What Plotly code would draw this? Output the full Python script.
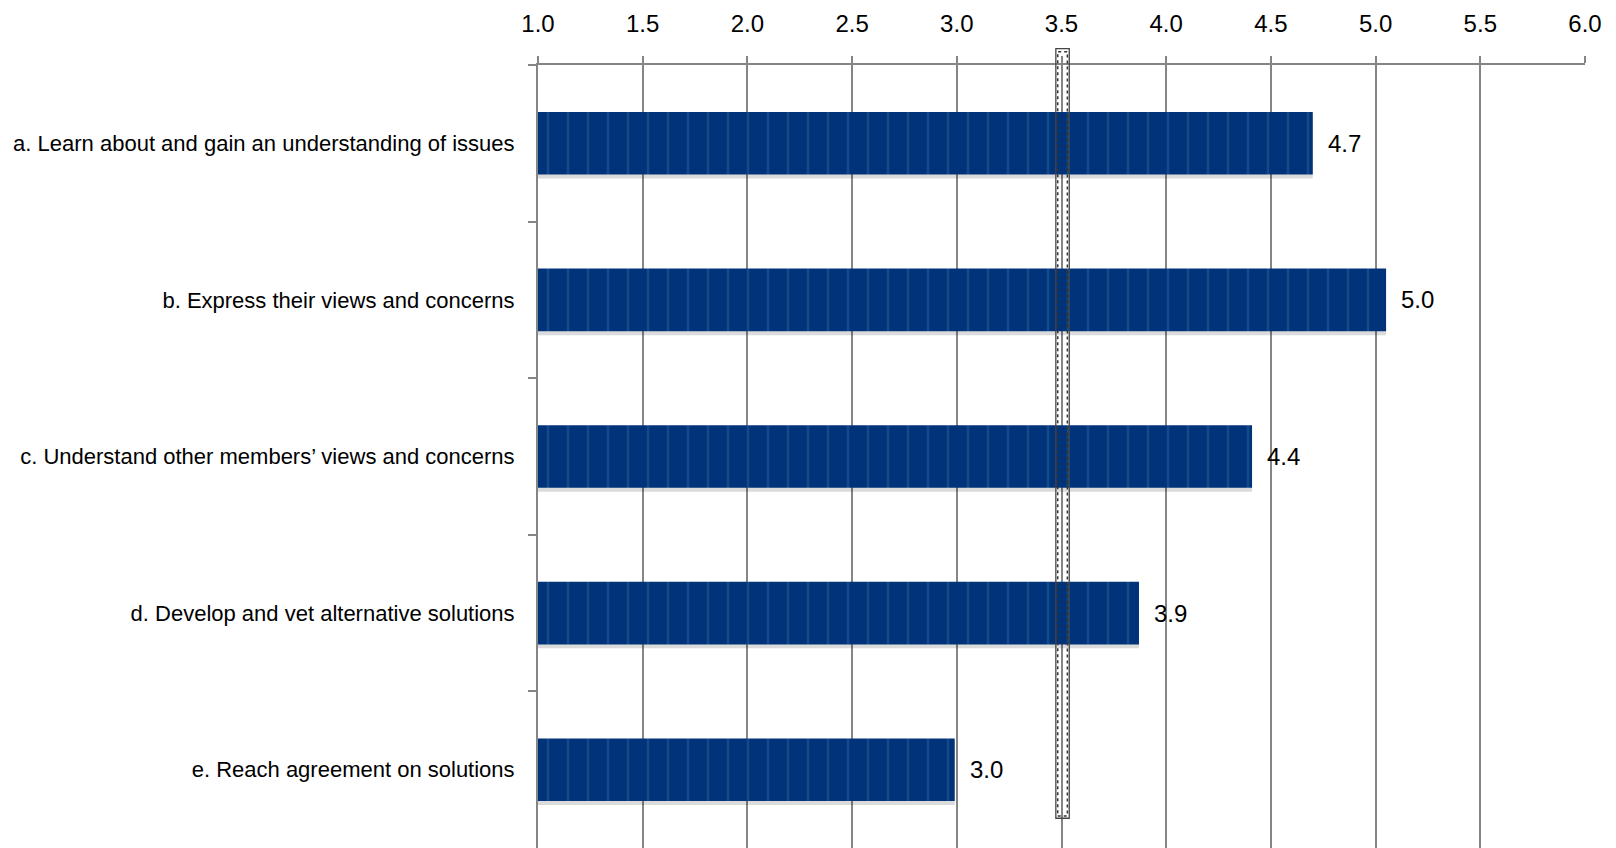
import plotly.graph_objects as go

# Survey items and mean ratings
categories = [
    "a. Learn about and gain an understanding of issues",
    "b. Express their views and concerns",
    "c. Understand other members\u2019 views and concerns",
    "d. Develop and vet alternative solutions",
    "e. Reach agreement on solutions",
]
ratings = [4.70, 5.05, 4.41, 3.87, 2.99]
tick_values = [1.0, 1.5, 2.0, 2.5, 3.0, 3.5, 4.0, 4.5, 5.0, 5.5, 6.0]
tick_labels = ["1.0", "1.5", "2.0", "2.5", "3.0", "3.5", "4.0", "4.5", "5.0", "5.5", "6.0"]
midpoint = 3.5

BAR_COLOR = "#01337a"
STRIPE_COLOR = "#134a88"
GRID = "#858585"
LABEL_FONT = "Liberation Sans Narrow, Arial Narrow, Liberation Sans, sans-serif"
NUM_FONT = "Liberation Sans, Arial, sans-serif"

fig = go.Figure()

# soft drop shadow under each bar
fig.add_trace(go.Bar(
    x=ratings, y=categories, orientation="h",
    width=0.4, offset=-0.175,
    marker=dict(color="rgba(0,0,0,0.14)", line=dict(width=0)),
    hoverinfo="skip", showlegend=False,
))

# striped navy bars
fig.add_trace(go.Bar(
    x=ratings, y=categories, orientation="h",
    width=0.4, offset=-0.2,
    marker=dict(
        color=BAR_COLOR,
        line=dict(width=0),
        pattern=dict(shape="|", fgcolor=STRIPE_COLOR, bgcolor=BAR_COLOR,
                     size=20, solidity=0.12, fillmode="replace"),
    ),
    showlegend=False,
))

# value labels to the right of each bar
for cat, val in zip(categories, ratings):
    fig.add_annotation(
        x=val, y=cat, xref="x", yref="y",
        text=f"{val:.1f}", showarrow=False,
        xanchor="left", yanchor="middle", xshift=13,
        font=dict(family=NUM_FONT, size=24, color="#000000"),
    )

# outlined marker at the scale midpoint
fig.add_shape(
    type="rect", xref="x", yref="paper",
    x0=midpoint - 0.027, x1=midpoint + 0.037, y0=0.038, y1=1.021,
    line=dict(color="#444444", width=1.3),
    fillcolor="rgba(0,0,0,0)", layer="above",
)
fig.add_shape(
    type="rect", xref="x", yref="paper",
    x0=midpoint - 0.018, x1=midpoint + 0.028, y0=0.041, y1=1.017,
    line=dict(color="#333333", width=1.5, dash="dot"),
    fillcolor="rgba(0,0,0,0)", layer="above",
)

fig.update_layout(
    width=1616, height=848,
    margin=dict(l=538, r=31, t=65, b=0, pad=0),
    plot_bgcolor="#ffffff", paper_bgcolor="#ffffff",
    barmode="overlay",
    xaxis=dict(
        side="top", range=[1.0, 6.0],
        tickvals=tick_values, ticktext=tick_labels,
        showgrid=True, gridcolor=GRID, gridwidth=1.5,
        showline=True, linecolor=GRID, linewidth=2,
        ticks="outside", ticklen=7, tickcolor=GRID, tickwidth=1.5,
        ticklabelstandoff=14,
        tickfont=dict(family=NUM_FONT, size=24, color="#000000"),
        zeroline=False, fixedrange=True, automargin=False,
    ),
    yaxis=dict(
        categoryorder="array", categoryarray=categories,
        autorange="reversed",
        showgrid=False, zeroline=False,
        showline=True, linecolor=GRID, linewidth=2,
        ticks="outside", tickson="boundaries", ticklen=8,
        tickcolor=GRID, tickwidth=1.5,
        ticklabelstandoff=17,
        tickfont=dict(family=LABEL_FONT, size=22, color="#000000"),
        fixedrange=True, automargin=False,
    ),
)

fig.write_html("out.html")
